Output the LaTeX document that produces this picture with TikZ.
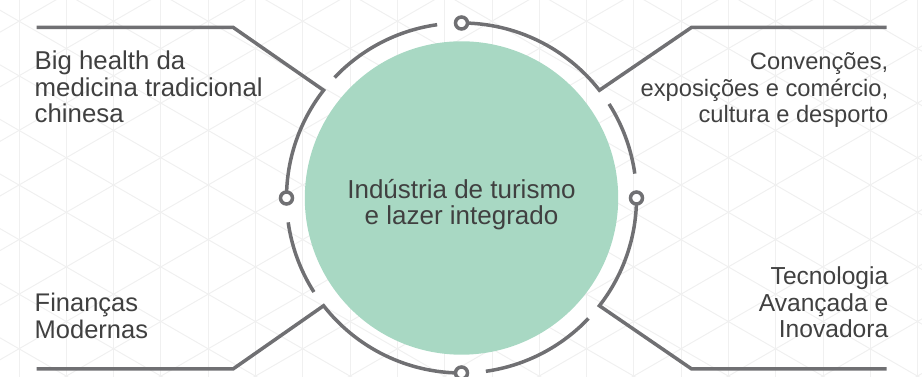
\documentclass[tikz,border=0pt]{standalone}
\usepackage{fontspec}
\setmainfont{Liberation Sans}
\usepackage{xcolor}
\usetikzlibrary{positioning,calc}
\definecolor{ringgray}{HTML}{707073}
\definecolor{hubgreen}{HTML}{A8D8C3}
\definecolor{txtgray}{HTML}{404040}
\definecolor{gridgray}{HTML}{F0F0F0}

\begin{document}
\begin{tikzpicture}[x=1pt,y=1pt,
	ring/.style={draw=ringgray,line width=3.5pt},
	knob/.style={circle,draw=ringgray,line width=3.5pt,fill=white,minimum size=12pt,inner sep=0pt},
	hub/.style={circle,fill=hubgreen,minimum size=313.4pt,inner sep=0pt},
	txt/.style={text=txtgray,font=\fontsize{#1}{26.5}\selectfont,inner sep=0pt},
	txt/.default=26,
	grid/.style={draw=gridgray,line width=1pt}]
			\useasboundingbox (0,0) rectangle (922,377);
			% background lattice
			\begin{scope}
			\clip (0,0) rectangle (922,377);
			\foreach \k in {0,...,19} \draw[grid] ({19+47.3*\k},0) -- ({19+47.3*\k},377);
			\foreach \m in {-13,...,4} \draw[grid] (-10,{175.26+54.6*\m}) -- (932,{719.1+54.6*\m});
			\foreach \m in {-4,...,13} \draw[grid] (-10,{208.74+54.6*\m}) -- (932,{-335.1+54.6*\m});
			\end{scope}

			\coordinate (c) at (461.5,179);
			\node[hub] (hub) at (c) {};

			% junctions on the ring and leader ends
			\coordinate (j1) at ($(c)+(38:175)$);
			\coordinate (j2) at ($(c)+(142:175)$);
			\coordinate (j3) at ($(c)+(218:175)$);
			\coordinate (j4) at ($(c)+(322:175)$);
			\coordinate (e1) at (691.7,349.7);
			\coordinate (f1) at (886.7,349.7);
			\coordinate (e2) at (233,349.7);
			\coordinate (f2) at (36.7,349.7);
			\coordinate (e3) at (233,8);
			\coordinate (f3) at (36.7,8);
			\coordinate (e4) at (691.7,8);
			\coordinate (f4) at (886.7,8);

			\draw[ring] (f1) -- (e1) -- (j1) arc[start angle=38,end angle=90,radius=175];
			\draw[ring] (f2) -- (e2) -- (j2) arc[start angle=142,end angle=180,radius=175];
			\draw[ring] (f3) -- (e3) -- (j3) arc[start angle=218,end angle=270,radius=175];
			\draw[ring] (f4) -- (e4) -- (j4) arc[start angle=322,end angle=360,radius=175];
			\draw[ring] ($(c)+(8:175)$) arc[start angle=8,end angle=32.5,radius=175];
			\draw[ring] ($(c)+(98:175)$) arc[start angle=98,end angle=136.5,radius=175];
			\draw[ring] ($(c)+(188:175)$) arc[start angle=188,end angle=212.5,radius=175];
			\draw[ring] ($(c)+(278:175)$) arc[start angle=278,end angle=316.5,radius=175];

			\node[knob] (kE) at ($(c)+(0:175)$) {};
			\node[knob] (kN) at ($(c)+(90:175)$) {};
			\node[knob] (kW) at ($(c)+(180:175)$) {};
			\node[knob] (kS) at ($(c)+(270:175)$) {};

			\node[txt,align=center,anchor=base] (hubtext) at (461.5,152.2) {Indústria de turismo\\e lazer integrado};
			\node[txt=25.8,align=left,anchor=base west] (tcm) at (34.5,254) {Big health da\\medicina tradicional\\chinesa};
			\node[txt=23.7,align=right,anchor=base east] (mice) at (888.5,254) {Convenções,\\exposições e comércio,\\cultura e desporto};
			\node[txt=25.5,align=left,anchor=base west] (fin) at (34.5,38.8) {Finanças\\Modernas};
			\node[txt=24.6,align=right,anchor=base east] (tech) at (888.5,39) {Tecnologia\\Avançada e\\Inovadora};
\end{tikzpicture}
\end{document}
